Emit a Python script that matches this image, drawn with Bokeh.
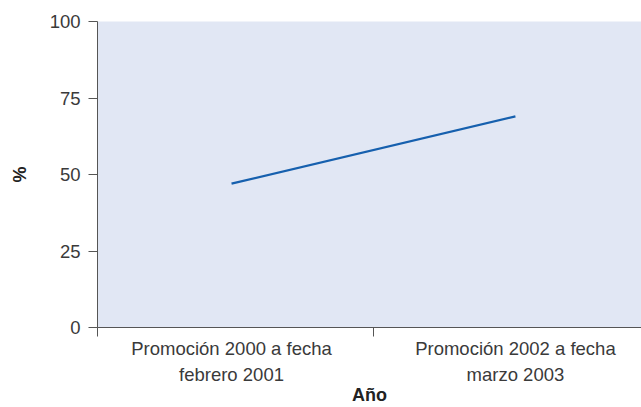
from bokeh.plotting import figure
from bokeh.models import Range1d, FixedTicker
from bokeh.embed import file_html
from bokeh.resources import INLINE

# Data
categories = ["Promoción 2000 a fecha febrero 2001", "Promoción 2002 a fecha marzo 2003"]
tick_labels = ["Promoción 2000 a fecha\nfebrero 2001", "Promoción 2002 a fecha\nmarzo 2003"]
values = [47, 69]
y_ticks = [0, 25, 50, 75, 100]
x_pos = list(range(len(categories)))

FONT = "Liberation Sans"
TXT = "#3a3a3a"

X0, X1 = -0.472, 1.444

p = figure(width=641, height=407, output_backend="svg", toolbar_location=None,
           x_range=Range1d(X0, X1), y_range=Range1d(0, 100),
           min_border_left=97, min_border_right=0, min_border_top=21, min_border_bottom=60)

p.background_fill_color = "#e1e7f4"
p.border_fill_color = "white"
p.outline_line_color = None
p.xgrid.visible = False
p.ygrid.visible = False

p.line(x=x_pos, y=values, line_width=2.3, line_color="#1660ae")

# x axis
xa = p.xaxis[0]
xa.ticker = FixedTicker(ticks=x_pos, minor_ticks=[X0, 0.5])
xa.major_label_overrides = {i: lab for i, lab in zip(x_pos, tick_labels)}
xa.major_tick_out = 0
xa.major_tick_in = 0
xa.minor_tick_out = 9
xa.minor_tick_in = 0
xa.minor_tick_line_color = "#555555"
xa.axis_line_color = "#555555"
xa.major_label_text_font = FONT
xa.major_label_text_font_size = "18.5px"
xa.major_label_text_color = TXT
xa.major_label_text_line_height = 1.25
xa.major_label_standoff = 1
xa.axis_label = "Año"
xa.axis_label_text_font = FONT
xa.axis_label_text_font_size = "18px"
xa.axis_label_text_font_style = "bold"
xa.axis_label_text_color = "#222222"
xa.axis_label_standoff = -3

# y axis
ya = p.yaxis[0]
ya.ticker = FixedTicker(ticks=y_ticks)
ya.major_tick_out = 9
ya.major_tick_in = 0
ya.minor_tick_out = 0
ya.minor_tick_in = 0
ya.major_tick_line_color = "#555555"
ya.axis_line_color = "#555555"
ya.major_label_text_font = FONT
ya.major_label_text_font_size = "18.5px"
ya.major_label_text_color = TXT
ya.major_label_standoff = 8
ya.axis_label = "%"
ya.axis_label_text_font = FONT
ya.axis_label_text_font_size = "18px"
ya.axis_label_text_font_style = "bold"
ya.axis_label_text_color = "#222222"
ya.axis_label_standoff = 17

open("out.html", "w").write(file_html(p, INLINE))
